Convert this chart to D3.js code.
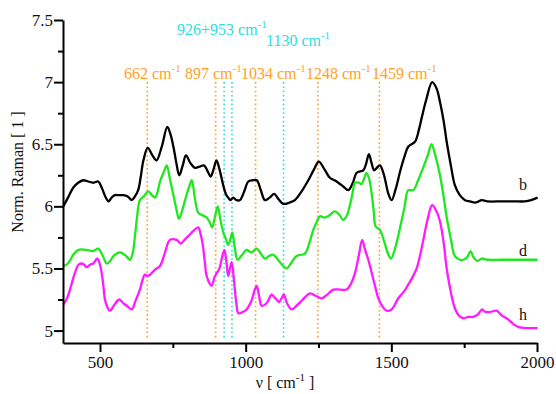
<!DOCTYPE html>
<html>
<head>
<meta charset="utf-8">
<script src="https://cdn.jsdelivr.net/npm/d3@7"></script>
<style>
  html, body { margin: 0; padding: 0; background: #fff; }
  svg { display: block; }
</style>
</head>
<body>
<svg id="chart" width="556" height="394"></svg>
<script>
// Raman spectra (normalised, vertically offset) — wavenumber [cm^-1], intensity
const spectrumB = [
  [374, 6.00], [390, 6.07], [408, 6.15], [425, 6.19], [443, 6.21], [460, 6.20], [477, 6.19],
  [494, 6.20], [506, 6.15], [518, 6.08], [529, 6.04], [540, 6.07], [551, 6.09], [565, 6.09],
  [580, 6.09], [595, 6.08], [609, 6.05], [620, 6.08], [631, 6.13], [640, 6.24], [649, 6.37],
  [664, 6.47], [680, 6.41], [694, 6.37], [712, 6.48], [731, 6.64], [742, 6.58], [752, 6.48],
  [762, 6.35], [772, 6.25], [784, 6.33], [795, 6.41], [810, 6.35], [826, 6.31], [842, 6.32],
  [857, 6.33], [870, 6.28], [880, 6.24], [890, 6.30], [900, 6.37], [910, 6.30], [923, 6.17],
  [932, 6.10], [940, 6.07], [948, 6.05], [957, 6.07], [968, 6.05], [980, 6.05], [995, 6.12],
  [1009, 6.20], [1024, 6.21], [1038, 6.21], [1052, 6.13], [1066, 6.05], [1082, 6.07],
  [1098, 6.10], [1112, 6.06], [1129, 6.02], [1150, 6.03], [1169, 6.05], [1192, 6.12],
  [1215, 6.21], [1235, 6.30], [1251, 6.36], [1270, 6.30], [1289, 6.23], [1305, 6.21],
  [1318, 6.19], [1335, 6.16], [1352, 6.13], [1368, 6.19], [1381, 6.27], [1404, 6.29],
  [1413, 6.34], [1423, 6.42], [1432, 6.35], [1441, 6.29], [1450, 6.31], [1461, 6.33],
  [1475, 6.25], [1490, 6.10], [1501, 6.05], [1515, 6.14], [1530, 6.28], [1545, 6.40],
  [1558, 6.48], [1581, 6.52], [1595, 6.62], [1604, 6.71], [1620, 6.86], [1640, 7.00],
  [1655, 6.95], [1667, 6.84], [1680, 6.68], [1690, 6.52], [1705, 6.32], [1718, 6.17],
  [1735, 6.09], [1753, 6.05], [1770, 6.04], [1787, 6.03], [1800, 6.04], [1810, 6.05],
  [1830, 6.04], [1878, 6.04], [1920, 6.04], [1958, 6.04], [1980, 6.05], [2002, 6.07]
];

const spectrumD = [
  [374, 5.52], [390, 5.54], [408, 5.61], [426, 5.65], [450, 5.65], [477, 5.64], [494, 5.66],
  [508, 5.61], [523, 5.54], [535, 5.56], [546, 5.60], [569, 5.63], [590, 5.60], [603, 5.57],
  [612, 5.62], [620, 5.76], [628, 5.93], [637, 6.05], [650, 6.08], [666, 6.12], [678, 6.09],
  [689, 6.07], [698, 6.12], [706, 6.20], [718, 6.27], [729, 6.33], [740, 6.22], [752, 6.09],
  [762, 5.98], [771, 5.90], [780, 5.95], [792, 6.05], [805, 6.15], [815, 6.21], [826, 6.06],
  [837, 5.95], [850, 5.93], [866, 5.91], [877, 5.87], [885, 5.83], [895, 5.92], [904, 6.00],
  [913, 5.90], [923, 5.79], [932, 5.74], [940, 5.69], [948, 5.74], [954, 5.79], [962, 5.68],
  [972, 5.57], [988, 5.61], [1003, 5.65], [1020, 5.63], [1038, 5.66], [1052, 5.62],
  [1066, 5.58], [1080, 5.60], [1095, 5.61], [1118, 5.55], [1140, 5.50], [1158, 5.55],
  [1175, 5.60], [1203, 5.62], [1218, 5.70], [1232, 5.81], [1245, 5.88], [1255, 5.92],
  [1270, 5.91], [1283, 5.92], [1306, 5.96], [1322, 5.93], [1335, 5.89], [1348, 5.93],
  [1358, 6.01], [1368, 6.12], [1375, 6.19], [1388, 6.19], [1398, 6.18], [1406, 6.22],
  [1415, 6.27], [1424, 6.22], [1432, 6.11], [1440, 5.95], [1446, 5.84], [1461, 5.81],
  [1475, 5.72], [1490, 5.61], [1499, 5.58], [1515, 5.68], [1530, 5.83], [1545, 5.99],
  [1558, 6.13], [1575, 6.13], [1592, 6.21], [1609, 6.31], [1625, 6.41], [1638, 6.50],
  [1652, 6.40], [1667, 6.25], [1680, 6.07], [1690, 5.91], [1705, 5.73], [1718, 5.60],
  [1735, 5.57], [1747, 5.57], [1760, 5.59], [1772, 5.64], [1782, 5.59], [1796, 5.56],
  [1810, 5.58], [1830, 5.57], [1878, 5.57], [1940, 5.57], [2002, 5.57]
];

const spectrumH = [
  [374, 5.21], [385, 5.25], [397, 5.33], [412, 5.45], [426, 5.53], [436, 5.54], [446, 5.53],
  [454, 5.51], [466, 5.53], [477, 5.54], [491, 5.58], [500, 5.53], [506, 5.46], [512, 5.35],
  [517, 5.25], [525, 5.19], [534, 5.16], [550, 5.21], [566, 5.25], [580, 5.22], [592, 5.20],
  [609, 5.17], [622, 5.24], [637, 5.33], [654, 5.45], [663, 5.44], [672, 5.45], [689, 5.49],
  [706, 5.52], [722, 5.62], [740, 5.73], [763, 5.73], [777, 5.70], [790, 5.73], [803, 5.76],
  [820, 5.80], [837, 5.83], [845, 5.78], [852, 5.70], [860, 5.55], [866, 5.44], [883, 5.36],
  [893, 5.43], [900, 5.46], [910, 5.50], [918, 5.58], [927, 5.65], [934, 5.55], [940, 5.44],
  [946, 5.50], [952, 5.55], [960, 5.40], [968, 5.22], [975, 5.14], [990, 5.15], [1003, 5.17],
  [1020, 5.24], [1030, 5.32], [1038, 5.36], [1046, 5.28], [1055, 5.20], [1072, 5.22],
  [1089, 5.29], [1098, 5.27], [1106, 5.25], [1115, 5.23], [1123, 5.26], [1131, 5.29],
  [1142, 5.22], [1158, 5.17], [1175, 5.20], [1192, 5.24], [1221, 5.30], [1240, 5.28],
  [1261, 5.26], [1280, 5.29], [1301, 5.33], [1325, 5.33], [1346, 5.33], [1362, 5.38],
  [1375, 5.46], [1388, 5.60], [1400, 5.73], [1410, 5.65], [1421, 5.57], [1432, 5.47],
  [1444, 5.36], [1454, 5.27], [1468, 5.20], [1484, 5.16], [1501, 5.17], [1524, 5.26],
  [1545, 5.32], [1558, 5.37], [1573, 5.43], [1587, 5.50], [1600, 5.62], [1609, 5.72],
  [1625, 5.90], [1640, 6.01], [1655, 5.96], [1667, 5.88], [1680, 5.70], [1690, 5.50],
  [1705, 5.30], [1718, 5.18], [1732, 5.12], [1747, 5.10], [1765, 5.11], [1781, 5.11],
  [1797, 5.13], [1812, 5.17], [1822, 5.15], [1840, 5.15], [1861, 5.16], [1880, 5.12],
  [1901, 5.09], [1920, 5.05], [1935, 5.03], [1965, 5.02], [2002, 5.02]
];

// Assigned Raman bands
const orangeBands = [662, 897, 1034, 1248, 1459];
const cyanBands = [926, 953, 1130];
const orangeLabels = ["662", "897", "1034", "1248", "1459"];
const cyanLabels = ["926+953", "1130"];

// Axis ticks
const xMajorTicks = [500, 1000, 1500, 2000];
const xMinorTicks = [750, 1250, 1750];
const yMajorTicks = [5, 5.5, 6, 6.5, 7, 7.5];
const yMinorTicks = [5.25, 5.75, 6.25, 6.75, 7.25];

const seriesNames = ["b", "d", "h"];
const seriesColors = ["#000000", "#1fe81f", "#ff1aff"];

// ---- layout ----
const W = 556, H = 394;
const margin = { top: 20, right: 19, bottom: 51, left: 63 };
const SERIF = "'Liberation Serif', 'Times New Roman', Tinos, 'DejaVu Serif', serif";
const svg = d3.select("#chart").attr("font-family", SERIF);

const x = d3.scaleLinear().domain([373, 2000]).range([margin.left, W - margin.right]);
const y = d3.scaleLinear().domain([4.9, 7.5]).range([H - margin.bottom, margin.top]);

const ORANGE = "#ffa126";
const CYAN = "#2fdcdc";
const fontSize = 17;

// band marker lines (drawn beneath spectra)
const bandTop = y(7.0);
const bandBottom = y.range()[0] - 5;
function drawBands(list, color) {
  svg.append("g").selectAll("line").data(list).join("line")
    .attr("x1", d => x(d)).attr("x2", d => x(d))
    .attr("y1", bandTop).attr("y2", bandBottom)
    .attr("stroke", color).attr("stroke-width", 1.6)
    .attr("stroke-dasharray", "1.6,2.7");
}
drawBands(orangeBands, ORANGE);
drawBands(cyanBands, CYAN);

// spectra
const line = d3.line()
  .x(d => x(d[0])).y(d => y(d[1]))
  .curve(d3.curveCatmullRom.alpha(0.5));

[spectrumB, spectrumD, spectrumH].forEach((s, i) => {
  svg.append("path").datum(s)
    .attr("d", line)
    .attr("fill", "none")
    .attr("stroke", seriesColors[i])
    .attr("stroke-width", 2.3)
    .attr("stroke-linejoin", "round");
});

// axes
function styleAxis(g) {
  g.attr("font-family", SERIF).attr("font-size", fontSize);
  g.select(".domain").attr("stroke", "#000").attr("stroke-width", 2);
  g.selectAll(".tick line").attr("stroke", "#000").attr("stroke-width", 2);
  g.selectAll(".tick text").attr("fill", "#111");
}

const fmtY = d => (d === Math.round(d) ? d3.format("d")(d) : d3.format(".1f")(d));

svg.append("g").attr("transform", `translate(0,${y.range()[0]})`)
  .call(d3.axisBottom(x).tickValues(xMinorTicks).tickSize(5).tickFormat(""))
  .call(g => { styleAxis(g); g.select(".domain").remove(); });
svg.append("g").attr("transform", `translate(0,${y.range()[0]})`)
  .call(d3.axisBottom(x).tickValues(xMajorTicks).tickSize(9).tickPadding(4).tickSizeOuter(0).tickFormat(d3.format("d")))
  .call(styleAxis);

svg.append("g").attr("transform", `translate(${margin.left},0)`)
  .call(d3.axisLeft(y).tickValues(yMinorTicks).tickSize(5).tickFormat(""))
  .call(g => { styleAxis(g); g.select(".domain").remove(); });
svg.append("g").attr("transform", `translate(${margin.left},0)`)
  .call(d3.axisLeft(y).tickValues(yMajorTicks).tickSize(9).tickPadding(1).tickSizeOuter(0).tickFormat(fmtY))
  .call(styleAxis);

// axis titles
svg.append("text")
  .attr("transform", `translate(23,${172}) rotate(-90)`)
  .attr("text-anchor", "middle")
  .attr("fill", "#111")
  .attr("font-size", 16)
  .text("Norm. Raman [ 1 ]");

const xt = svg.append("text")
  .attr("x", 285).attr("y", 388)
  .attr("text-anchor", "middle")
  .attr("fill", "#111")
  .attr("font-size", 16);
xt.append("tspan").text("ν [ cm");
xt.append("tspan").attr("dy", -7).attr("font-size", 11).text("-1");
xt.append("tspan").attr("dy", 7).text(" ]");

// band labels: "<value> cm^-1"
function bandLabel(px, py, value, color) {
  const t = svg.append("text").attr("x", px).attr("y", py)
    .attr("fill", color).attr("font-size", 16);
  t.append("tspan").text(value + " cm");
  t.append("tspan").attr("dy", -7).attr("font-size", 11).text("-1");
  return t;
}
const orangeLabelX = [124, 185, 241, 306, 372];
orangeLabels.forEach((v, i) => bandLabel(orangeLabelX[i], 79, v, ORANGE));
const cyanLabelPos = [[177, 35], [266, 46]];
cyanLabels.forEach((v, i) => bandLabel(cyanLabelPos[i][0], cyanLabelPos[i][1], v, CYAN));

// series labels
const seriesLabelY = [190, 256, 320];
seriesNames.forEach((n, i) => {
  svg.append("text").attr("x", 519).attr("y", seriesLabelY[i])
    .attr("fill", "#111").attr("font-size", 16).text(n);
});
</script>
</body>
</html>
